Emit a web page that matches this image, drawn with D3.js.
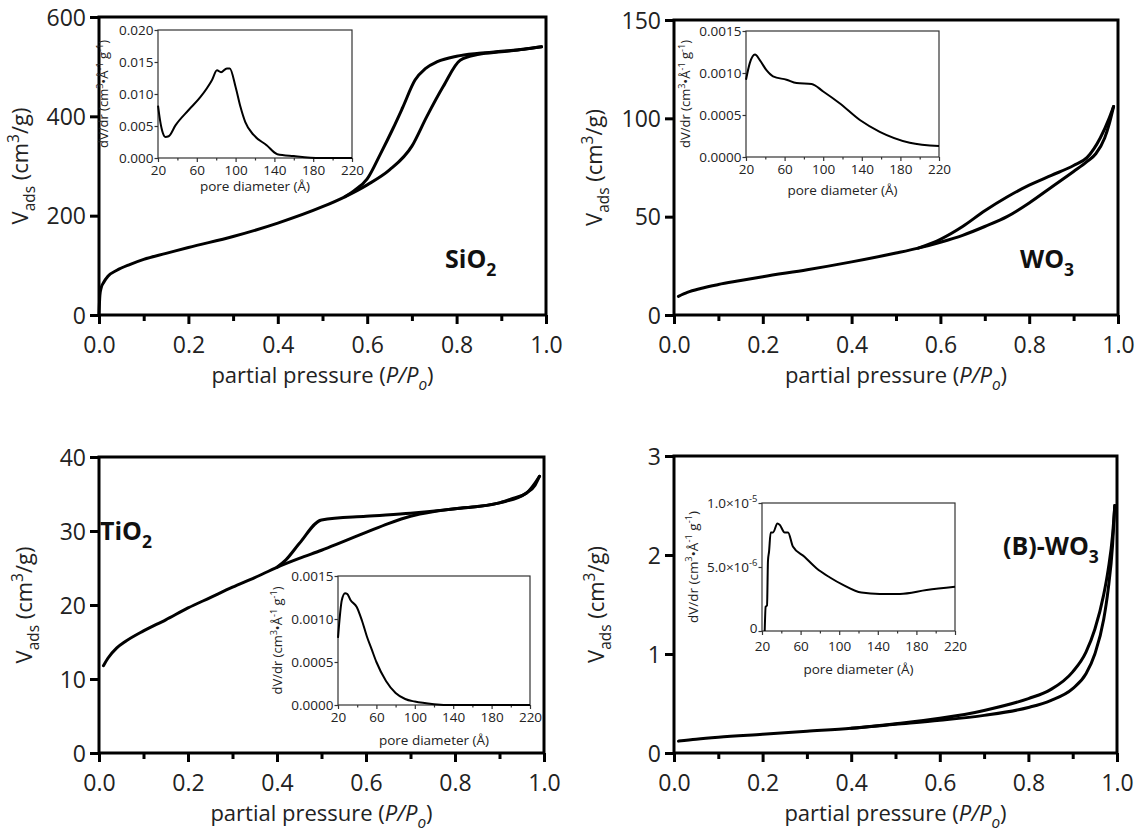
<!DOCTYPE html>
<html><head><meta charset="utf-8">
<script src="https://cdn.jsdelivr.net/npm/d3@7"></script>
<style>body{margin:0;background:#fff} svg{font-family:'Open Sans',sans-serif}</style>
</head><body><svg id="c" width="1139" height="837"></svg>
<script>
// ---------- data ----------
const xTicks = [0, 0.2, 0.4, 0.6, 0.8, 1.0];
const xMinor = [0.1, 0.3, 0.5, 0.7, 0.9];
const poreTicks = [20, 60, 100, 140, 180, 220];
const poreMinor = [40, 80, 120, 160, 200];

const sio2YTicks = [0, 200, 400, 600];
const sio2Ads = [[0,0],[0.002,40],[0.005,55],[0.01,65],[0.02,78],[0.04,90],[0.07,102],[0.1,112],[0.15,124],[0.2,136],[0.3,158],[0.4,185],[0.5,218],[0.55,238],[0.6,262],[0.65,292],[0.7,340],[0.733,399],[0.77,460],[0.808,513],[0.85,525],[0.9,530],[0.95,535],[0.99,540]];
const sio2Des = [[0.55,238],[0.57,250],[0.6,274],[0.63,325],[0.658,376],[0.68,419],[0.707,473],[0.73,496],[0.757,510],[0.8,521],[0.85,527],[0.9,531],[0.95,535],[0.99,540]];
const sio2PoreYTicks = [0, 0.005, 0.010, 0.015, 0.020];
const sio2Pore = [[20,0.0082],[22,0.006],[25,0.0039],[27.5,0.0033],[31,0.0034],[38,0.0051],[51.6,0.0075],[63.6,0.0095],[75.7,0.0122],[80.8,0.0137],[85,0.0134],[91,0.014],[94,0.014],[100,0.0111],[105,0.008],[110,0.0056],[118.6,0.0036],[132,0.002],[143,0.0006],[160,0.0003],[187,0.0],[220,0.0]];

const wo3YTicks = [0, 50, 100, 150];
const wo3Ads = [[0.01,9.5],[0.03,11.5],[0.06,13.5],[0.1,15.5],[0.15,17.5],[0.2,19.5],[0.3,23],[0.4,27],[0.5,31.5],[0.55,34],[0.6,37],[0.65,40.5],[0.7,45],[0.75,50],[0.8,57],[0.85,65],[0.9,73],[0.93,78],[0.95,82],[0.97,90],[0.98,97],[0.99,106]];
const wo3Des = [[0.55,34],[0.6,38.5],[0.65,45],[0.7,53],[0.75,60],[0.8,66],[0.85,71],[0.9,76],[0.93,80],[0.96,90],[0.98,100],[0.99,106]];
const wo3PoreYTicks = [0, 0.0005, 0.0010, 0.0015];
const wo3Pore = [[20,0.00092],[24,0.00112],[29.3,0.00122],[34.5,0.00115],[41.4,0.00103],[48,0.00096],[62,0.00092],[72.4,0.00088],[88,0.00087],[100,0.00078],[117,0.00064],[138,0.00044],[158.6,0.0003],[189.7,0.00017],[220,0.00013]];

const tio2YTicks = [0, 10, 20, 30, 40];
const tio2Ads = [[0.01,11.8],[0.02,12.8],[0.04,14.2],[0.06,15.1],[0.1,16.5],[0.15,18],[0.2,19.6],[0.25,21],[0.3,22.4],[0.35,23.7],[0.4,25.1],[0.45,26.3],[0.5,27.4],[0.55,28.6],[0.6,29.8],[0.65,31],[0.7,32],[0.75,32.6],[0.8,33],[0.85,33.3],[0.9,33.8],[0.93,34.4],[0.96,35.1],[0.98,36.2],[0.99,37.4]];
const tio2Des = [[0.4,25.1],[0.42,26.1],[0.45,28.3],[0.5,31.5],[0.6,32],[0.7,32.4],[0.8,33],[0.9,33.8],[0.96,35.1],[0.99,37.4]];
const tio2PoreYTicks = [0, 0.0005, 0.0010, 0.0015];
const tio2Pore = [[20,0.00078],[24,0.00122],[27.3,0.0013],[29.7,0.00129],[33,0.00122],[39.5,0.00114],[45,0.00098],[50,0.0008],[55,0.00065],[60,0.0005],[70,0.00028],[80,0.00014],[90,0.00007],[100,0.00004],[120,0.00001],[140,0.0],[220,0.0]];

const bwo3YTicks = [0, 1, 2, 3];
const bwo3Ads = [[0.01,0.12],[0.05,0.14],[0.1,0.16],[0.2,0.19],[0.3,0.22],[0.4,0.25],[0.5,0.29],[0.6,0.33],[0.7,0.38],[0.8,0.46],[0.85,0.53],[0.9,0.65],[0.93,0.8],[0.95,1.0],[0.97,1.35],[0.98,1.65],[0.99,2.1],[0.995,2.5]];
const bwo3Des = [[0.4,0.25],[0.5,0.295],[0.6,0.35],[0.7,0.43],[0.8,0.55],[0.85,0.64],[0.9,0.82],[0.93,1.02],[0.95,1.25],[0.97,1.6],[0.98,1.85],[0.99,2.2],[0.995,2.5]];
const bwo3PoreYTicks = [0, 5e-6, 1e-5];
const bwo3Pore = [[22.8,0],[23.8,1.9e-6],[25.2,2e-6],[26.2,5.5e-6],[27.3,6.2e-6],[29,7.7e-6],[31.4,7.7e-6],[36,8.4e-6],[38.3,8.3e-6],[43.5,7.7e-6],[47,7.7e-6],[52,6.6e-6],[64,5.8e-6],[76.4,4.9e-6],[90,4.2e-6],[104,3.6e-6],[123,3.0e-6],[142,2.9e-6],[163,2.9e-6],[190.6,3.2e-6],[220,3.45e-6]];

// ---------- drawing ----------
const svg = d3.select('#c');

function rich(sel, parts, fs) {
  let off = 0;
  parts.forEach(p => {
    const ts = sel.append('tspan').text(p.t);
    let target = 0;
    if (p.sub) target = 0.3 * fs;
    if (p.sup) target = -0.42 * fs;
    const dy = target - off;
    if (dy !== 0) ts.attr('dy', dy);
    off = target;
    if (p.sub || p.sup) ts.attr('font-size', fs * 0.7);
    if (p.it) ts.attr('font-style', 'italic');
  });
}

function mainPanel(o) {
  const g = svg.append('g');
  const x = d3.scaleLinear().domain([0, 1]).range([o.left, o.right]);
  const y = d3.scaleLinear().domain([0, o.ymax]).range([o.bottom, o.top]);
  const fs = 23;
  const xa = g.append('g').attr('transform', `translate(0,${o.bottom})`)
    .call(d3.axisBottom(x).tickValues(xTicks).tickSize(9).tickPadding(13).tickFormat(d3.format('.1f')));
  const xm = g.append('g').attr('transform', `translate(0,${o.bottom})`)
    .call(d3.axisBottom(x).tickValues(xMinor).tickSize(6).tickFormat(''));
  const ya = g.append('g').attr('transform', `translate(${o.left},0)`)
    .call(d3.axisLeft(y).tickValues(o.yTicks).tickSize(9).tickPadding(4).tickFormat(d => d));
  [xa, xm, ya].forEach(a => {
    a.select('.domain').remove();
    a.selectAll('line').attr('stroke', '#000').attr('stroke-width', 3);
    a.selectAll('text').attr('font-size', fs).attr('fill', '#222').attr('font-family', "'Open Sans',sans-serif");
  });
  ya.selectAll('text').attr('dy', '0.36em');
  g.append('rect').attr('x', o.left).attr('y', o.top)
    .attr('width', o.right - o.left).attr('height', o.bottom - o.top)
    .attr('fill', 'none').attr('stroke', '#000').attr('stroke-width', 3);
  const line = d3.line().x(d => x(d[0])).y(d => y(d[1])).curve(d3.curveMonotoneX);
  [o.ads, o.des].forEach(s => g.append('path').attr('d', line(s))
    .attr('fill', 'none').attr('stroke', '#000').attr('stroke-width', 3).attr('stroke-linejoin', 'round').attr('stroke-linecap', 'round'));
  const xt = g.append('text').attr('x', (o.left + o.right) / 2).attr('y', o.bottom + 68)
    .attr('text-anchor', 'middle').attr('font-size', 22).attr('fill', '#222');
  rich(xt, [{t:'partial pressure ('},{t:'P/P',it:true},{t:'o',sub:true,it:true},{t:')'}], 22);
  const yt = g.append('text').attr('transform', `translate(${o.ytx},${(o.top + o.bottom) / 2}) rotate(-90)`)
    .attr('text-anchor', 'middle').attr('font-size', 22).attr('fill', '#222');
  rich(yt, [{t:'V'},{t:'ads',sub:true},{t:' (cm'},{t:'3',sup:true},{t:'/g)'}], 22);
  const lt = g.append('text').attr('x', o.lx).attr('y', o.ly).attr('font-size', 25)
    .attr('font-weight', 'bold').attr('fill', '#111');
  rich(lt, o.label, 25);
}

function inset(o) {
  const g = svg.append('g');
  const x = d3.scaleLinear().domain([20, 220]).range([o.left, o.right]);
  const y = d3.scaleLinear().domain([0, o.ymax]).range([o.bottom, o.top]);
  const fs = 13.5;
  g.append('rect').attr('x', o.left).attr('y', o.top).attr('width', o.right - o.left)
    .attr('height', o.bottom - o.top).attr('fill', '#fff').attr('stroke', '#333').attr('stroke-width', 1.2);
  const xa = g.append('g').attr('transform', `translate(0,${o.bottom})`)
    .call(d3.axisBottom(x).tickValues(poreTicks).tickSize(4).tickPadding(o.xPad || 3).tickFormat(d => d));
  const xm = g.append('g').attr('transform', `translate(0,${o.bottom})`)
    .call(d3.axisBottom(x).tickValues(poreMinor).tickSize(2.5).tickFormat(''));
  const ya = g.append('g').attr('transform', `translate(${o.left},0)`)
    .call(d3.axisLeft(y).tickValues(o.yTicks).tickSize(3.5).tickPadding(1).tickFormat(o.fmt));
  [xa, xm, ya].forEach(a => {
    a.select('.domain').remove();
    a.selectAll('line').attr('stroke', '#333').attr('stroke-width', 1.2);
    a.selectAll('text').attr('font-size', fs).attr('fill', '#222').attr('font-family', "'Open Sans',sans-serif");
  });
  if (o.richY) {
    ya.selectAll('text').text('').each(function(d) {
      rich(d3.select(this), o.richY(d), fs);
    });
    ya.selectAll('text').filter(d => d === 0).attr('dy', '0.1em');
  }
  const line = d3.line().x(d => x(d[0])).y(d => y(d[1])).curve(d3.curveMonotoneX);
  g.append('path').attr('d', line(o.data)).attr('fill', 'none').attr('stroke', '#000')
    .attr('stroke-width', 2).attr('stroke-linejoin', 'round');
  g.append('text').attr('x', (o.left + o.right) / 2).attr('y', o.bottom + o.xtOff)
    .attr('text-anchor', 'middle').attr('font-size', 13.5).attr('fill', '#222').text('pore diameter (Å)');
  const yt = g.append('text').attr('transform', `translate(${o.left - o.ytOff},${(o.top + o.bottom) / 2}) rotate(-90)`)
    .attr('text-anchor', 'middle').attr('font-size', o.ytFs || 13).attr('fill', '#222');
  rich(yt, [{t:'dV/dr (cm'},{t:'3',sup:true},{t:'•Å'},{t:'-1',sup:true},{t:' g'},{t:'-1',sup:true},{t:')'}], o.ytFs || 13);
}

mainPanel({left: 99, right: 546, top: 17, bottom: 315, ymax: 600, yTicks: sio2YTicks, ads: sio2Ads, des: sio2Des,
  ytx: 28, lx: 445, ly: 268, label: [{t:'SiO'},{t:'2',sub:true}]});
mainPanel({left: 674, right: 1118, top: 20, bottom: 315, ymax: 150, yTicks: wo3YTicks, ads: wo3Ads, des: wo3Des,
  ytx: 602, lx: 1020, ly: 268, label: [{t:'WO'},{t:'3',sub:true}]});
mainPanel({left: 99, right: 544, top: 457, bottom: 753, ymax: 40, yTicks: tio2YTicks, ads: tio2Ads, des: tio2Des,
  ytx: 32, lx: 100, ly: 540, label: [{t:'TiO'},{t:'2',sub:true}]});
mainPanel({left: 674, right: 1117, top: 456, bottom: 753, ymax: 3, yTicks: bwo3YTicks, ads: bwo3Ads, des: bwo3Des,
  ytx: 604, lx: 1003, ly: 555, label: [{t:'(B)-WO'},{t:'3',sub:true}]});

inset({left: 158, right: 352, top: 30, bottom: 158, ymax: 0.020, yTicks: sio2PoreYTicks, data: sio2Pore,
  fmt: d3.format('.3f'), xtOff: 33, ytOff: 50});
inset({left: 746, right: 939, top: 31, bottom: 157, ymax: 0.0015, yTicks: wo3PoreYTicks, data: wo3Pore,
  fmt: d3.format('.4f'), xtOff: 38, ytOff: 56});
inset({left: 338, right: 530, top: 576, bottom: 705, ymax: 0.0015, yTicks: tio2PoreYTicks, data: tio2Pore,
  fmt: d3.format('.4f'), xtOff: 40, ytOff: 56});
inset({left: 762, right: 955, top: 503, bottom: 631, ymax: 1e-5, yTicks: bwo3PoreYTicks, data: bwo3Pore,
  fmt: d => d, xtOff: 43, ytOff: 64, xPad: 6, ytFs: 13.5,
  richY: d => d === 0 ? [{t:'0'}] : d === 5e-6 ? [{t:'5.0×10'},{t:'-6',sup:true}] : [{t:'1.0×10'},{t:'-5',sup:true}]});
</script></body></html>
